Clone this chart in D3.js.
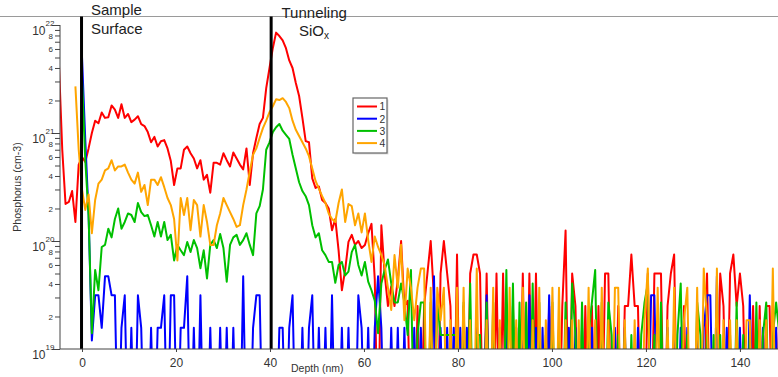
<!DOCTYPE html>
<html>
<head>
<meta charset="utf-8">
<script src="https://cdn.jsdelivr.net/npm/d3@7"></script>
<style>
  body { margin: 0; background: #fff; }
  svg { display: block; font-family: "Liberation Sans", Arial, sans-serif; }
</style>
</head>
<body>
<svg id="chart" width="778" height="377"></svg>
<script>
// SIMS phosphorus depth profiles, sampled every 0.7 nm starting at -4.9 nm.
// Concentrations are in units of 1e19 cm^-3; 0 means below the detection floor,
// null means the profile has not started yet.
const depthStart = -4.9;
const depthStep = 0.7;
const unit = 1e19;

const seriesNames = ["1", "2", "3", "4"];
const seriesColors = ["#ff0000", "#0000ff", "#00c000", "#ffa500"];

const conc1 = [
  430,70,22,23,29,15,51,60,54,72,
  100,130,123,155,138,140,180,165,138,185,
  138,150,126,133,143,121,116,102,82,92,
  75,84,86,72,55,33,47,47,70,75,
  65,58,47,56,37,41,28,53,53,51,
  65,56,49,66,58,51,46,72,33,65,
  90,121,138,260,400,610,850,790,720,610,
  470,400,290,220,138,84,82,38,31,32,
  24,22.5,20,12.6,16,8.2,3.5,5.4,9.8,11.4,
  9.2,10,8.6,9.2,11.8,14.4,4.4,0,14,5,
  2.5,3.8,2.5,4.4,10,2.5,2.8,0,0,2.5,
  0,2.5,5,10,3,0,5,10,5,2.5,
  0,7.5,0,2.5,0,5,7.5,7.5,5,0,
  5,0,0,5,0,5,0,0,2.5,0,
  0,5,0,5,0,5,0,0,0,2.5,
  0,0,0,2.5,12.5,0,5,2.5,0,0,
  2.5,0,2.5,0,2.5,0,5,5,0,0,
  2.5,0,2.5,2.5,7.5,2.5,2.5,0,0,5,
  0,5,5,5,0,2.5,5,7.5,0,0,
  2.5,0,0,0,0,0,0,5,0,0,
  0,5,2.5,0,5,7.5,2.5,5,2.5,0,
  0,2.5,0,2.5,0,2.5,2.5,0,0,2.5
];

const conc2 = [
  null,null,null,null,null,null,null,508,86,18,
  1.2,3.14,3.14,1.57,4.71,4.71,3.14,3.14,0,1.57,
  3.14,0,1.57,0,3.14,1.57,0,0,1.57,0,
  1.57,1.57,3.14,0,3.14,3.14,0,1.57,1.57,4.71,
  0,1.57,0,3.14,0,0,1.57,0,0,1.57,
  0,1.57,0,1.57,0,0,4.71,0,0,1.57,
  3.14,3.14,0,0,0,0,0,1.57,1.57,0,
  1.57,3.14,0,0,1.57,0,1.57,3.14,0,1.57,
  0,1.57,0,3.14,0,0,1.57,0,1.57,0,
  0,3.14,1.57,0,1.57,0,1.57,4.71,1.57,0,
  0,1.57,0,1.57,0,1.57,0,0,1.57,0,
  1.57,0,0,0,4.71,0,1.57,0,1.57,0,
  1.57,0,1.57,0,1.57,0,0,1.57,0,0,
  3.14,0,1.57,0,1.57,0,1.57,0,0,1.57,
  0,1.57,0,3.14,0,1.57,0,1.57,0,3.14,
  0,0,1.57,0,0,1.57,0,1.57,0,1.57,
  0,0,1.57,0,0,1.57,0,0,0,1.57,
  0,0,1.57,0,0,0,1.57,0,0,0,
  3.14,3.14,0,0,0,1.57,0,1.57,0,1.57,
  0,1.57,0,0,1.57,0,1.57,3.14,3.14,0,
  4.71,0,0,1.57,0,0,0,1.57,0,0,
  3.14,0,0,0,1.57,0,0,0,1.57,0
];

const conc3 = [
  null,null,null,null,null,null,null,320,56,17.4,
  1.4,5.4,3.5,8.8,9.2,13,10.8,16,20,13,
  15,18,17.4,15,22.5,18.5,17,17.4,14,11,
  15,11,15,10.2,11.4,6.6,9.2,8.2,7.4,9.8,
  7.9,10.2,8.6,5.6,8.2,4.5,9.2,10.2,8.6,11.6,
  8.6,4.2,9.2,10.8,11.4,9.2,10.2,11.8,9.2,7.4,
  18,21,30,70,82,102,113,121,105,96,
  88,63,47,35,29,26,21.5,14,10.8,11.8,
  8.2,7.4,6.4,6.4,4.1,6,6.4,4.8,5.2,7.9,
  9.2,6,4.8,6.4,4.2,3.5,2.8,1.4,4.05,5.4,
  6.75,4.05,2.7,2.7,4.05,2.7,1.35,5.4,0,1.35,
  2.7,2.7,0,2.7,0,2.7,1.35,1.35,1.35,1.35,
  1.35,1.35,0,2.7,0,4.05,0,1.35,1.35,0,
  2.7,0,2.7,0,1.35,0,5.4,0,4.05,0,
  2.7,0,2.7,0,4.05,0,2.7,0,1.35,0,
  2.7,0,1.35,0,2.7,0,4.05,1.35,0,2.7,
  0,1.35,2.7,5.4,0,2.7,0,2.7,1.35,0,
  1.35,0,1.35,0,1.35,0,0,1.35,2.7,4.05,
  0,1.35,0,2.7,0,1.35,0,0,1.35,4.05,
  0,1.35,0,0,2.7,1.35,0,1.35,0,1.35,
  0,1.35,0,0,1.35,0,2.7,0,1.35,0,
  1.35,0,2.7,0,1.35,2.7,0,1.35,2.7,1.35
];

const conc4 = [
  null,null,null,null,null,270,70,30,19.4,27,
  11.8,24,34,37,45,47,56,45,49,49,
  51,43,37,34,43,28.5,33,21.5,37,37,
  33,39,31.5,25,21.5,16,6.6,25,17.4,25,
  12.6,24,21.5,11,21.5,15,9.2,9.2,14,18,
  25,21.5,18.5,16,13.5,14,21.5,30,44,63,
  72,90,111,130,156,177,205,202,210,194,
  170,130,107,94,82,72,61,47,36,30.5,
  26,22.5,18,16,15,22.5,30,15,22,21,
  14,18,12,18,10.2,6.4,11,8.8,7.4,6,
  3.7,2.3,7.4,3.7,9.25,1.85,5.55,3.7,1.85,3.7,
  5.55,5.55,0,3.7,0,3.7,1.85,3.7,0,1.85,
  0,3.7,0,3.7,0,1.85,0,5.55,0,0,
  1.85,0,3.7,0,1.85,0,0,3.7,0,1.85,
  0,3.7,0,0,1.85,0,3.7,0,1.85,0,
  3.7,0,3.7,0,1.85,0,1.85,0,1.85,0,
  0,3.7,0,1.85,0,3.7,0,1.85,0,3.7,
  3.7,0,1.85,0,0,1.85,0,0,1.85,5.55,
  0,0,3.7,0,0,1.85,0,3.7,0,0,
  1.85,3.7,0,0,3.7,0,5.55,1.85,0,0,
  5.55,0,1.85,0,1.85,0,1.85,0,0,1.85,
  1.85,0,0,1.85,0,1.85,0,5.55,0,1.85
];

const xTicks = [0, 20, 40, 60, 80, 100, 120, 140];
const yDecades = [19, 20, 21, 22];
const yMinorLabels = [2, 4, 6, 8];
const interfaceDepths = [-0.1, 40.25];

const svg = d3.select("#chart");
const x = d3.scaleLinear().domain([-4.68, 148.1]).range([60, 778]);
const y = d3.scaleLog().domain([1e19, 1e22]).range([349, 25]);
const floorConc = 1e18; // below-detection points fall under the axis and are clipped
const textColor = "#333";
const axisColor = "#444";

svg.append("defs").append("clipPath").attr("id", "plotClip")
  .append("rect").attr("x", 60).attr("y", 0).attr("width", 718).attr("height", 349);

// top rule
svg.append("line").attr("x1", 0).attr("x2", 778).attr("y1", 16.5).attr("y2", 16.5)
  .attr("stroke", "#9a9a9a").attr("stroke-width", 1);

// profiles
const allSeries = [conc1, conc2, conc3, conc4].map((vals, k) => ({
  name: seriesNames[k],
  color: seriesColors[k],
  points: vals.map((v, i) => ({ depth: depthStart + i * depthStep, v }))
}));

const line = d3.line()
  .defined(d => d.v !== null)
  .x(d => x(d.depth))
  .y(d => y(d.v > 0 ? d.v * unit : floorConc));

svg.append("g").attr("clip-path", "url(#plotClip)")
  .selectAll("path").data(allSeries).join("path")
  .attr("d", s => line(s.points))
  .attr("fill", "none")
  .attr("stroke", s => s.color)
  .attr("stroke-width", 2)
  .attr("stroke-linejoin", "round");

// interface markers
svg.append("g").selectAll("line").data(interfaceDepths).join("line")
  .attr("x1", d => x(d)).attr("x2", d => x(d))
  .attr("y1", 16.5).attr("y2", 349)
  .attr("stroke", "#000").attr("stroke-width", 3);

// y axis
const majorVals = yDecades.map(e => Math.pow(10, e));
const minorVals = [];
yDecades.slice(0, -1).forEach(e => {
  for (let m = 2; m <= 9; m++) minorVals.push(m * Math.pow(10, e));
});

const yMajor = svg.append("g").attr("transform", "translate(60,0)")
  .call(d3.axisLeft(y).tickValues(majorVals).tickSize(8).tickFormat(""));
yMajor.select(".domain").attr("stroke", axisColor).attr("d", "M0,25V349");
yMajor.selectAll(".tick line").attr("stroke", axisColor);

const yMinor = svg.append("g").attr("transform", "translate(60,0)")
  .call(d3.axisLeft(y).tickValues(minorVals).tickSize(5).tickPadding(2)
    .tickFormat(d => {
      const m = Math.round(d / Math.pow(10, Math.floor(Math.log10(d) + 1e-9)));
      return yMinorLabels.includes(m) ? String(m) : "";
    }));
yMinor.select(".domain").remove();
yMinor.selectAll(".tick line").attr("stroke", axisColor);
yMinor.selectAll("text").attr("font-size", 8).attr("fill", textColor)
  .attr("font-family", "Liberation Sans, Arial, sans-serif");

const decadeLabels = svg.append("g").selectAll("g").data(yDecades).join("g")
  .attr("transform", e => `translate(0,${y(Math.pow(10, e))})`);
decadeLabels.append("text").attr("x", 45.5).attr("y", 10).attr("text-anchor", "end")
  .attr("font-size", 12).attr("fill", textColor).text("10");
decadeLabels.append("text").attr("x", 45.5).attr("y", 0.5)
  .attr("font-size", 8).attr("fill", textColor).text(e => e);

// x axis
const xAxis = svg.append("g").attr("transform", "translate(0,349)")
  .call(d3.axisBottom(x).tickValues(xTicks).tickSize(3).tickPadding(6));
xAxis.select(".domain").attr("stroke", axisColor).attr("d", "M60,0H778");
xAxis.selectAll(".tick line").attr("stroke", axisColor);
xAxis.selectAll("text").attr("font-size", 12).attr("fill", textColor)
  .attr("font-family", "Liberation Sans, Arial, sans-serif");

svg.append("text").attr("x", 291).attr("y", 372)
  .attr("font-size", 10.5).attr("fill", textColor).text("Depth (nm)");

svg.append("text")
  .attr("transform", "translate(20.5,187) rotate(-90)")
  .attr("text-anchor", "middle").attr("font-size", 10.5).attr("fill", textColor)
  .text("Phosphorus (cm-3)");

// annotations
const noteColor = "#222";
svg.append("text").attr("x", 91).attr("y", 14.5).attr("font-size", 15)
  .attr("fill", noteColor).text("Sample");
svg.append("text").attr("x", 91).attr("y", 33.5).attr("font-size", 15)
  .attr("fill", noteColor).text("Surface");
svg.append("text").attr("x", 281.5).attr("y", 18).attr("font-size", 15)
  .attr("fill", noteColor).text("Tunneling");
const siox = svg.append("text").attr("x", 299).attr("y", 36).attr("font-size", 15)
  .attr("fill", noteColor);
siox.append("tspan").text("SiO");
siox.append("tspan").attr("font-size", 10).attr("dy", 3).text("x");

// legend
const legend = svg.append("g").attr("transform", "translate(353,98)");
legend.append("rect").attr("x", 1.5).attr("y", 1.5).attr("width", 34).attr("height", 55)
  .attr("fill", "#ddd");
legend.append("rect").attr("width", 34).attr("height", 55)
  .attr("fill", "#fff").attr("stroke", "#666").attr("stroke-width", 1.2);
const entries = legend.selectAll("g").data(allSeries).join("g")
  .attr("transform", (s, k) => `translate(0,${8.5 + k * 12.2})`);
entries.append("line").attr("x1", 4).attr("x2", 24)
  .attr("stroke", s => s.color).attr("stroke-width", 2);
entries.append("text").attr("x", 26.5).attr("y", 3.8)
  .attr("font-size", 10.3).attr("fill", textColor).text(s => s.name);
</script>
</body>
</html>
